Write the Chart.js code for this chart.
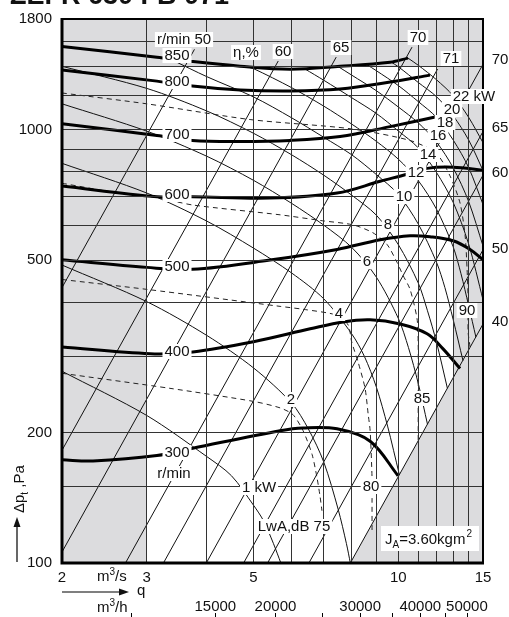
<!DOCTYPE html>
<html>
<head>
<meta charset="utf-8">
<script src="https://cdn.jsdelivr.net/npm/chart.js@4.4.0/dist/chart.umd.min.js"></script>
<style>
  html, body { margin: 0; padding: 0; background: #fff; }
  canvas { display: block; }
</style>
</head>
<body>
<canvas id="fanChart" width="509" height="617"></canvas>
<script>
// axes: q in m3/s (log), total pressure in Pa (log)
const qGrid = [2, 3, 4, 5, 6, 7, 8, 9, 10, 11, 12, 13, 14, 15];
const qLabels = [2, 3, 5, 10, 15];
const pGrid = [100, 150, 200, 300, 400, 500, 600, 700, 800, 900, 1000, 1200, 1400, 1600, 1800];
const pLabels = [100, 200, 500, 1000, 1800];
const flowTicks = [10000, 15000, 20000, 25000, 30000, 35000, 40000, 45000, 50000]; // m3/h
const flowLabels = [15000, 20000, 30000, 40000, 50000];

// fan speed curves [q, dp]
const rpm850 = [[2, 1556], [3.15, 1469], [3.69, 1438], [4.69, 1401], [5.96, 1379], [7.57, 1400], [9.62, 1431], [10.48, 1462]];
const rpm800 = [[2, 1372], [3.15, 1294], [3.73, 1261], [4.69, 1235], [5.96, 1228], [7.57, 1241], [9.62, 1288], [11.64, 1336]];
const rpm700 = [[2, 1032], [3.15, 969], [3.73, 944], [4.69, 939], [5.96, 944], [7.57, 964], [9.62, 1016], [12, 1071]];
const rpm600 = [[2, 741], [3.15, 700], [3.73, 700], [5.41, 695], [7.46, 714], [9.17, 760], [10.43, 789], [11.48, 814], [13, 819], [15, 806]];
const rpm500 = [[2, 501], [3, 481], [3.73, 476], [5.41, 500], [7.46, 529], [9.17, 557], [10.58, 569], [11.64, 566], [13, 554], [14.1, 529], [15, 501]];
const rpm400 = [[2, 315], [3.05, 304], [3.74, 307], [5, 324], [6.56, 347], [7.68, 360], [8.74, 364], [10.09, 356], [11.48, 338], [12.39, 312], [13.44, 281]];
const rpm300 = [[2, 173], [2.32, 172], [3.15, 177], [3.74, 184], [5.68, 202], [6.34, 205], [7.46, 204], [8.74, 191], [9.99, 159]];
const speedCurves = [rpm850, rpm800, rpm700, rpm600, rpm500, rpm400, rpm300];

// efficiency lines, eta %
const etaValues = [50, 60, 65, 70, 71, 70, 65, 60, 50, 40];
const etaLines = [
  [[2, 432], [3.77, 1532]],
  [[2, 182], [5.63, 1440]],
  [[2, 106], [7.43, 1470]],
  [[2.71, 100], [10.68, 1550]],
  [[3.25, 100], [12.07, 1380]],
  [[3.99, 100], [15, 1415]],
  [[4.77, 100], [15, 990]],
  [[5.35, 100], [15, 785]],
  [[6.52, 100], [15, 528]],
  [[7.95, 100], [15, 356]]
];

// shaft power lines, kW
const kw1 = [[2, 277], [3, 219], [4, 176], [4.5, 159], [5, 136], [5.25, 125], [5.5, 111], [5.7, 100]];
const kw2 = [[2, 487], [3, 401], [4, 335], [5, 282], [6, 234], [6.5, 204], [7, 171], [7.5, 133], [7.8, 111], [7.95, 100]];
const kw4 = [[2, 836], [3, 714], [4, 615], [5, 533], [6, 467], [7, 407], [8, 338], [8.5, 300], [9, 255], [9.5, 207], [10.05, 160]];
const kw6 = [[2, 1147], [3, 992], [4, 868], [5, 764], [6, 676], [7, 602], [8, 535], [9, 457], [10, 367], [10.5, 314], [11, 260], [11.5, 209]];
const kw8 = [[2, 1400], [3, 1245], [4, 1104], [5, 981], [6, 875], [7, 785], [8, 706], [9, 635], [10, 543], [11, 443], [11.5, 382], [12, 324], [12.65, 253]];
const kw10 = [[3.4, 1445], [4, 1325], [5, 1190], [6, 1065], [7, 960], [8, 875], [9, 788], [10, 709], [11, 606], [12, 495], [12.5, 432], [13, 365], [13.63, 293]];
const kw12 = [[4.85, 1395], [5, 1383], [6, 1250], [7, 1133], [8, 1030], [9, 940], [10, 855], [11, 763], [12, 656], [13, 537], [13.5, 465], [14, 393], [14.5, 332]];
const kw14 = [[6.4, 1380], [7, 1300], [8, 1185], [9, 1090], [10, 993], [11, 908], [12, 797], [13, 680], [14, 545], [15, 405]];
const kw16 = [[7.5, 1398], [8, 1336], [9, 1230], [10, 1128], [11, 1037], [12, 937], [13, 817], [14, 683], [15, 539]];
const kw18 = [[8.6, 1413], [9, 1368], [10, 1264], [11, 1161], [12, 1068], [13, 947], [14, 818], [15, 672]];
const kw20 = [[9.65, 1433], [10, 1397], [11, 1285], [12, 1192], [13, 1077], [14, 947], [15, 805]];
const kw22 = [[10.48, 1462], [11, 1408], [12, 1304], [13, 1198], [14, 1068], [15, 933]];
const powerLines = [kw1, kw2, kw4, kw6, kw8, kw10, kw12, kw14, kw16, kw18, kw20, kw22];

// sound power LwA, dB
const lwa75 = [[2, 274], [3.35, 253], [5, 236], [5.68, 228], [6.04, 220], [6.34, 202], [6.62, 178], [6.78, 157], [6.88, 142], [6.94, 132]];
const lwa80 = [[2, 451], [3, 428], [5.68, 391], [6.34, 385], [7.46, 373], [7.87, 354], [8.0, 324], [8.25, 291], [8.53, 253], [8.66, 220], [8.74, 202], [8.82, 157], [8.82, 139], [8.82, 119]];
const lwa85 = [[2, 752], [2.62, 714], [3.15, 697], [3.74, 670], [5.68, 636], [6.97, 616], [8.05, 603], [8.86, 578], [9.48, 543], [9.94, 494], [10.23, 461], [10.58, 428], [10.94, 366], [11, 319], [11, 258], [11, 188]];
const lwa90 = [[2, 1215], [3, 1147], [4.92, 1055], [7.94, 1005], [10.58, 944], [12, 881], [12.81, 782], [13.44, 677], [13.77, 569], [13.9, 476], [13.97, 406], [13.97, 341], [14.1, 315]];
const soundLines = [lwa75, lwa80, lwa85, lwa90];

// shaded (not recommended) areas
const grayLeft = [[2, 1800], [3, 1800]];
const grayTop = [[3, 1400], [12, 1400], [12, 1200], [15, 1200]];
const grayRight = [[7.95, 100], [13, 267], [13, 1200], [15, 1200]];

const FONT = "'Liberation Sans', Arial, Helvetica, sans-serif";
Chart.defaults.font.family = FONT;
Chart.defaults.color = '#111';

const xy = a => a.map(([x, y]) => ({ x, y }));
const GRAY = '#dcdcde';

let datasets = [];
datasets.push({ data: xy(grayLeft), fill: 'start' });
datasets.push({ data: xy(grayTop), fill: 'end' });
datasets.push({ data: xy(grayRight), fill: 'start' });
datasets = datasets.map(d => Object.assign(d, {
  showLine: true, backgroundColor: GRAY, borderWidth: 0, pointRadius: 0, tension: 0, order: 10
}));

etaLines.forEach(l => datasets.push({
  data: xy(l), showLine: true, borderColor: '#111', borderWidth: 1, pointRadius: 0, fill: false, tension: 0, order: 5
}));
powerLines.forEach(l => datasets.push({
  data: xy(l), showLine: true, borderColor: '#111', borderWidth: 1, pointRadius: 0, fill: false, tension: 0.3, order: 5
}));
soundLines.forEach(l => datasets.push({
  data: xy(l), showLine: true, borderColor: '#222', borderWidth: 1, borderDash: [5, 4], pointRadius: 0, fill: false, tension: 0.25, order: 4
}));
speedCurves.forEach(l => datasets.push({
  data: xy(l), showLine: true, borderColor: '#000', borderWidth: 3, pointRadius: 0, fill: false, tension: 0.35, order: 1
}));

// text placed on the chart [text, x, y] (pixels, centre)
const boxedLabels = [
  ['r/min 50', 184, 39], ['850', 177, 55], ['800', 177, 81], ['700', 177, 134], ['600', 177, 194],
  ['500', 177, 266], ['400', 177, 351], ['300', 177, 452], ['r/min', 174, 473],
  ['\u03b7,%', 246, 52], ['60', 283, 51], ['65', 341, 47], ['70', 418, 37], ['71', 451, 58],
  ['22 kW', 474, 96], ['20', 452, 109], ['18', 445, 122], ['16', 438, 135], ['14', 428, 154],
  ['12', 416, 172], ['10', 404, 196], ['8', 388, 224], ['6', 367, 261], ['4', 339, 313],
  ['2', 291, 399], ['1 kW', 259, 487],
  ['80', 371, 486], ['85', 422, 398], ['90', 467, 310], ['LwA,dB 75', 294, 526]
];
const sideLabels = [['70', 500, 59], ['65', 500, 127], ['60', 500, 172], ['50', 500, 248], ['40', 500, 321]];

const textPlugin = {
  id: 'chartTexts',
  afterDraw(chart) {
    const { ctx, chartArea: a } = chart;
    const xs = chart.scales.x;
    ctx.save();

    // frame
    ctx.strokeStyle = '#000';
    ctx.lineWidth = 2;
    ctx.strokeRect(a.left, a.top, a.right - a.left, a.bottom - a.top);
    ctx.lineWidth = 3;
    ctx.beginPath();
    ctx.moveTo(a.left, a.top - 1);
    ctx.lineTo(a.left, a.bottom);
    ctx.lineTo(a.right + 1, a.bottom);
    ctx.stroke();

    ctx.font = '15px ' + FONT;
    ctx.textAlign = 'center';
    ctx.textBaseline = 'middle';
    boxedLabels.forEach(([t, x, y]) => {
      const w = ctx.measureText(t).width;
      ctx.fillStyle = '#fff';
      ctx.fillRect(x - w / 2 - 2, y - 7, w + 4, 15);
      ctx.fillStyle = '#111';
      ctx.fillText(t, x, y + 1);
    });
    sideLabels.forEach(([t, x, y]) => ctx.fillText(t, x, y + 1));

    // J_A box
    ctx.fillStyle = '#fff';
    ctx.fillRect(381, 526, 98, 25);
    ctx.fillStyle = '#111';
    ctx.textAlign = 'left';
    ctx.textBaseline = 'alphabetic';
    let cx = 385;
    ctx.font = '15px ' + FONT; ctx.fillText('J', cx, 544); cx += ctx.measureText('J').width;
    ctx.font = '10px ' + FONT; ctx.fillText('A', cx, 548); cx += ctx.measureText('A').width;
    ctx.font = '15px ' + FONT; ctx.fillText('=3.60kgm', cx, 544); cx += ctx.measureText('=3.60kgm').width;
    ctx.font = '10px ' + FONT; ctx.fillText('2', cx + 1, 537);

    // m3/s and m3/h
    cx = 97;
    ctx.font = '15px ' + FONT; ctx.fillText('m', cx, 581); cx += ctx.measureText('m').width;
    ctx.font = '10px ' + FONT; ctx.fillText('3', cx, 575); cx += ctx.measureText('3').width;
    ctx.font = '15px ' + FONT; ctx.fillText('/s', cx, 581);
    cx = 97;
    ctx.fillText('m', cx, 612); cx += ctx.measureText('m').width;
    ctx.font = '10px ' + FONT; ctx.fillText('3', cx, 606); cx += ctx.measureText('3').width;
    ctx.font = '15px ' + FONT; ctx.fillText('/h', cx, 612);
    ctx.fillText('q', 137, 595);

    // q arrow
    ctx.lineWidth = 1.2;
    ctx.beginPath(); ctx.moveTo(62, 592); ctx.lineTo(122, 592); ctx.stroke();
    ctx.beginPath(); ctx.moveTo(129, 592); ctx.lineTo(119, 588.5); ctx.lineTo(119, 595.5); ctx.closePath(); ctx.fill();

    // m3/h scale
    ctx.textAlign = 'center';
    flowLabels.forEach(v => ctx.fillText(String(v), xs.getPixelForValue(v / 3600), 611));
    ctx.lineWidth = 1;
    flowTicks.forEach(v => {
      const px = Math.round(xs.getPixelForValue(v / 3600)) + 0.5;
      ctx.beginPath(); ctx.moveTo(px, 613); ctx.lineTo(px, 617); ctx.stroke();
    });

    // y title with arrow
    ctx.save();
    ctx.translate(24, 513);
    ctx.rotate(-Math.PI / 2);
    ctx.textAlign = 'left';
    cx = 0;
    ctx.font = '15px ' + FONT; ctx.fillText('\u0394p', cx, 0); cx += ctx.measureText('\u0394p').width;
    ctx.font = '10px ' + FONT; ctx.fillText('t', cx, 4); cx += ctx.measureText('t').width;
    ctx.font = '15px ' + FONT; ctx.fillText(' ,Pa', cx, 0);
    ctx.restore();
    ctx.lineWidth = 1.2;
    ctx.beginPath(); ctx.moveTo(17, 562); ctx.lineTo(17, 525); ctx.stroke();
    ctx.beginPath(); ctx.moveTo(17, 517); ctx.lineTo(13.5, 527); ctx.lineTo(20.5, 527); ctx.closePath(); ctx.fill();

    // title (cut by the top edge)
    ctx.font = 'bold 27px ' + FONT;
    ctx.textAlign = 'left';
    ctx.fillText('ZEFR 630 FB 071', 10, 4);

    ctx.restore();
  }
};

new Chart(document.getElementById('fanChart'), {
  type: 'scatter',
  data: { datasets },
  options: {
    responsive: false,
    animation: false,
    devicePixelRatio: 1,
    layout: { padding: { top: 15, right: 26, bottom: 0, left: 0 } },
    plugins: { legend: { display: false }, tooltip: { enabled: false } },
    scales: {
      x: {
        type: 'logarithmic', min: 2, max: 15,
        afterBuildTicks: s => { s.ticks = qGrid.map(v => ({ value: v })); },
        afterFit: s => { s.height = 54; },
        grid: { color: '#333', lineWidth: 1, drawTicks: false, z: 1 },
        border: { display: false },
        ticks: {
          autoSkip: false, maxRotation: 0, minRotation: 0, padding: 6,
          font: { size: 15 }, color: '#111',
          callback: v => qLabels.includes(v) ? String(v) : ''
        }
      },
      y: {
        type: 'logarithmic', min: 100, max: 1800,
        afterBuildTicks: s => { s.ticks = pGrid.map(v => ({ value: v })); },
        afterFit: s => { s.width = 62; },
        grid: { color: '#333', lineWidth: 1, drawTicks: false, z: 1 },
        border: { display: false },
        ticks: {
          autoSkip: false, padding: 10,
          font: { size: 15 }, color: '#111',
          callback: v => pLabels.includes(v) ? String(v) : ''
        }
      }
    }
  },
  plugins: [textPlugin]
});
</script>
</body>
</html>
